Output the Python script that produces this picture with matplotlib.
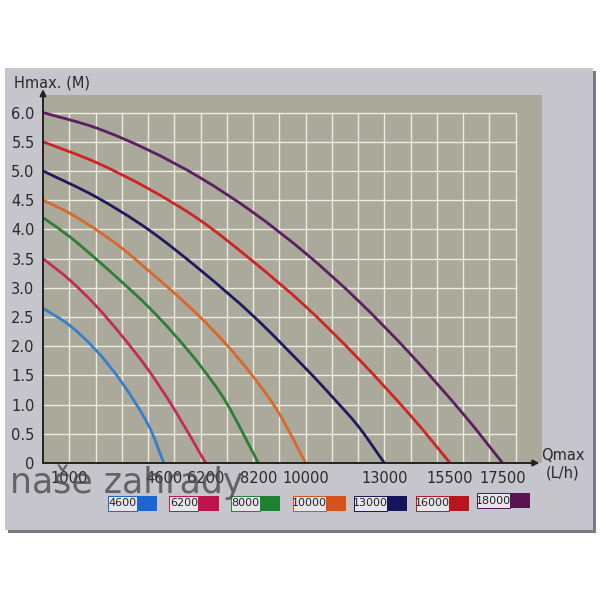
import numpy as np
import matplotlib
matplotlib.use('Agg')
import matplotlib.pyplot as plt
from matplotlib.path import Path
from matplotlib.patches import PathPatch, Rectangle

#### Pump curves (Q in L/h, H in m) ####
q_4600 = [0, 1000, 2000, 3000, 4000, 4600]
h_4600 = [2.65, 2.36, 1.94, 1.38, 0.66, 0]

q_6200 = [0, 1000, 2000, 3000, 4000, 5000, 6000, 6200]
h_6200 = [3.5, 3.14, 2.70, 2.18, 1.60, 0.92, 0.15, 0]

q_8000 = [0, 1000, 2000, 3000, 4000, 5000, 6000, 7000, 8200]
h_8000 = [4.2, 3.88, 3.50, 3.10, 2.68, 2.20, 1.66, 1.02, 0]

q_10000 = [0, 1000, 2000, 3000, 4000, 5000, 6000, 7000, 8000, 9000, 10000]
h_10000 = [4.5, 4.28, 4.0, 3.68, 3.30, 2.91, 2.49, 2.02, 1.48, 0.84, 0]

q_13000 = [0, 2000, 4000, 6000, 8000, 10000, 11000, 12000, 13000]
h_13000 = [5.0, 4.56, 4.0, 3.30, 2.52, 1.62, 1.14, 0.63, 0]

q_16000 = [0, 2000, 4000, 6000, 8000, 10000, 12000, 14000, 15500]
h_16000 = [5.5, 5.15, 4.70, 4.15, 3.45, 2.68, 1.79, 0.81, 0]

q_18000 = [0, 2000, 4000, 6000, 8000, 10000, 12000, 14000, 16000, 17500]
h_18000 = [6.0, 5.74, 5.36, 4.88, 4.29, 3.59, 2.78, 1.86, 0.84, 0]

curves = [(q_4600, h_4600), (q_6200, h_6200), (q_8000, h_8000), (q_10000, h_10000),
          (q_13000, h_13000), (q_16000, h_16000), (q_18000, h_18000)]
line_colors = ['#3a7dc9', '#c42a5c', '#2f7d36', '#d9682c', '#1e1b5c', '#cf2424', '#5c1f60']

legend_labels = ['4600', '6200', '8000', '10000', '13000', '16000', '18000']
legend_colors = ['#1b66d2', '#c0124c', '#1f8232', '#d6521c', '#15155c', '#b8161c', '#5a1252']

x_ticks = [1000, 4600, 6200, 8200, 10000, 13000, 15500, 17500]
y_ticks = [0, 0.5, 1.0, 1.5, 2.0, 2.5, 3.0, 3.5, 4.0, 4.5, 5.0, 5.5, 6.0]
y_labels = ['0', '0.5', '1.0', '1.5', '2.0', '2.5', '3.0', '3.5', '4.0', '4.5', '5.0', '5.5', '6.0']


#### smooth curve through read points (Catmull-Rom as Bezier) ####
def smooth_path(q, h):
    pts = np.column_stack([q, h]).astype(float)
    p = np.vstack([2*pts[0] - pts[1], pts, 2*pts[-1] - pts[-2]])
    verts = [pts[0]]
    codes = [Path.MOVETO]
    for i in range(1, len(p) - 2):
        c1 = p[i] + (p[i+1] - p[i-1]) / 6
        c2 = p[i+1] - (p[i+2] - p[i]) / 6
        verts += [c1, c2, p[i+1]]
        codes += [Path.CURVE4] * 3
    return Path(verts, codes)


def px(x, y):
    # pixel position (from top-left) -> figure fraction
    return x / 600, 1 - y / 600


fig = plt.figure(figsize=(6, 6), dpi=100)
fig.patch.set_facecolor('white')

# photo card and its shadow
fig.patches.append(Rectangle(px(8, 533), 588/600, 462/600, transform=fig.transFigure,
                             facecolor='#7a7a80', edgecolor='none', zorder=-3))
fig.patches.append(Rectangle(px(5, 530), 588/600, 462/600, transform=fig.transFigure,
                             facecolor='#c6c5cb', edgecolor='none', zorder=-2))

l, b = px(43, 463)
ax = fig.add_axes([l, b, (542 - 43) / 600, (463 - 95) / 600])
ax.set_facecolor('#aaa99b')
ax.set_xlim(0, 19000)
ax.set_ylim(0, 6.3)
for s in ax.spines.values():
    s.set_visible(False)

# grid
grid_q = np.arange(1000, 18001, 1000)
ax.vlines(grid_q, 0, 6.0, color='#ecebe0', lw=1.0, zorder=1)
ax.hlines(y_ticks[1:], 0, 18000, color='#ecebe0', lw=1.0, zorder=1)

for (q, h), c in zip(curves, line_colors):
    ax.add_patch(PathPatch(smooth_path(q, h), facecolor='none', edgecolor=c,
                           lw=2.0, zorder=3, capstyle='round'))

# axes with arrows
ax.annotate('', xy=(18900, 0), xytext=(0, 0), annotation_clip=False,
            arrowprops=dict(arrowstyle='-|>', color='#222222', lw=1.4, mutation_scale=9,
                            shrinkA=0, shrinkB=0), zorder=4)
ax.annotate('', xy=(0, 6.4), xytext=(0, 0), annotation_clip=False,
            arrowprops=dict(arrowstyle='-|>', color='#222222', lw=1.4, mutation_scale=9,
                            shrinkA=0, shrinkB=0), zorder=4)

ax.set_xticks(x_ticks)
ax.set_xticklabels([str(v) for v in x_ticks])
ax.set_yticks(y_ticks)
ax.set_yticklabels(y_labels)
ax.tick_params(length=0, labelsize=10.5, labelcolor='#2a2a2a', pad=6)

fig.text(*px(14, 83), 'Hmax. (M)', fontsize=10.5, color='#2a2a2a', va='center', ha='left')
fig.text(*px(563, 455), 'Qmax', fontsize=10.5, color='#2a2a2a', va='center', ha='center')
fig.text(*px(563, 473), '(L/h)', fontsize=10.5, color='#2a2a2a', va='center', ha='center')

# watermark
fig.text(*px(10, 482), 'naše zahrady', fontsize=25, color='#4a4a4a', alpha=0.8,
         va='center', ha='left', zorder=6)

# legend boxes
for i, (lab, c) in enumerate(zip(legend_labels, legend_colors)):
    x0 = 108 + i * 61.5
    w = 29 if len(lab) == 4 else 33
    y_top = 496 - (3 if i == 6 else 0)
    fig.patches.append(Rectangle(px(x0, y_top + 15), w / 600, 15 / 600, transform=fig.transFigure,
                                 facecolor='#e8e6ec', edgecolor=c, lw=0.7, zorder=2))
    fig.patches.append(Rectangle(px(x0 + w, y_top + 15), 20 / 600, 15 / 600, transform=fig.transFigure,
                                 facecolor=c, edgecolor='none', zorder=2))
    fig.text(*px(x0 + w / 2, y_top + 7.5), lab, fontsize=8, color='#222222',
             ha='center', va='center', zorder=3)

fig.savefig('out.png', dpi=100)
